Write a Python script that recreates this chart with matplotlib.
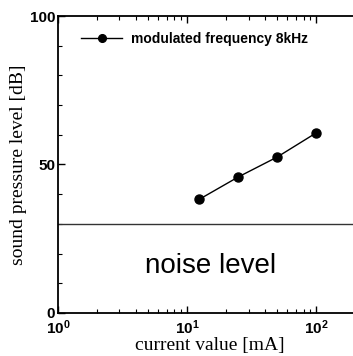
import matplotlib
matplotlib.use("Agg")
import matplotlib.pyplot as plt
from matplotlib.ticker import LogLocator, MultipleLocator, FixedLocator

current_mA = [12.5, 25, 50, 100]
spl_dB = [38.3, 45.8, 52.5, 60.6]
noise_level_dB = 30
series_label = "modulated frequency 8kHz"

fig = plt.figure(figsize=(3.53, 3.56), dpi=100)
ax = fig.add_axes([0.164, 0.121, 0.86, 0.834])

ax.plot(current_mA, spl_dB, color="black", marker="o", markersize=6.5, lw=1.0,
        label=series_label)
ax.axhline(noise_level_dB, color="#333333", lw=1.0)

ax.set_xscale("log")
ax.set_xlim(1, 225)
ax.set_ylim(0, 100)

ax.yaxis.set_major_locator(FixedLocator([0, 50, 100]))
ax.yaxis.set_minor_locator(MultipleLocator(10))
ax.xaxis.set_major_locator(LogLocator(base=10))
ax.xaxis.set_minor_locator(LogLocator(base=10, subs=range(2, 10)))

ax.tick_params(which="both", direction="in", top=True, right=True)
ax.tick_params(which="major", length=5, width=1.0)
ax.tick_params(which="minor", length=3, width=0.8)
ax.tick_params(axis="y", which="major", labelsize=11, pad=2)
ax.tick_params(axis="x", which="major", labelsize=11, pad=4)
for lab in ax.get_xticklabels() + ax.get_yticklabels():
    lab.set_fontfamily("Liberation Sans")
    lab.set_fontweight("bold")
for s in ax.spines.values():
    s.set_linewidth(1.3)

ax.set_xlabel("current value [mA]", family="Liberation Serif", fontsize=14, labelpad=0)
ax.set_ylabel("sound pressure level [dB]", family="Liberation Serif", fontsize=14, labelpad=2)

ax.text(0.504, 0.158, "noise level", transform=ax.transAxes, family="Liberation Sans",
        fontsize=20, ha="center", va="center")

leg = ax.legend(loc="center left", bbox_to_anchor=(0.057, 0.923), frameon=False,
                prop={"family": "Liberation Sans", "weight": "bold", "size": 10},
                handlelength=3.0, handletextpad=0.6, markerscale=0.85,
                borderaxespad=0.0)

fig.savefig("out.png", dpi=100)
